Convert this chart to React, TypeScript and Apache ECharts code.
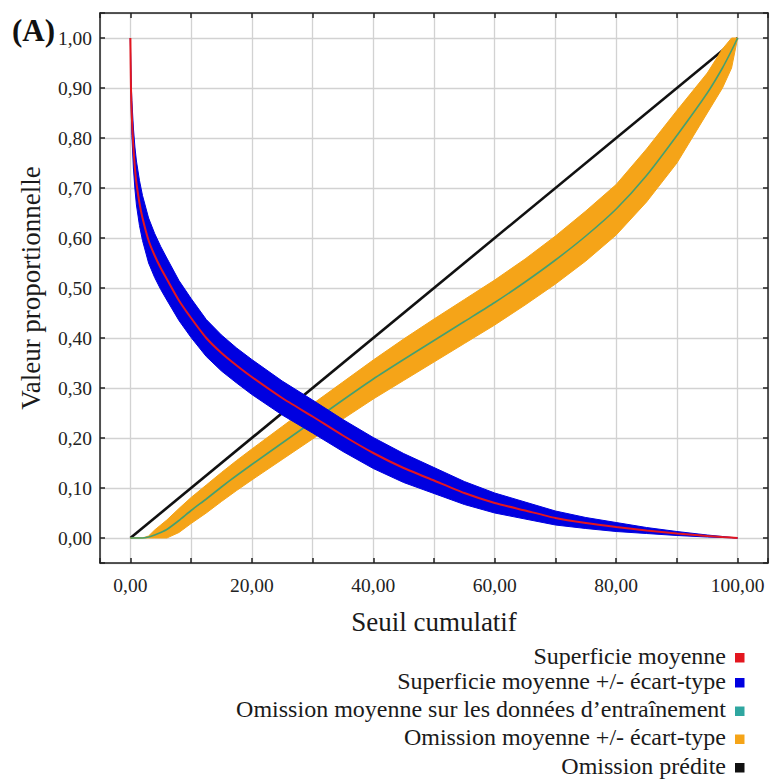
import React, { useEffect, useRef } from "react";
import * as echarts from "echarts";

// Shared x grid (Seuil cumulatif) for all curves and bands
const X_VALUES = [0, 0.1, 0.25, 0.5, 0.75, 1, 1.5, 2, 3, 4, 5, 6, 8, 10, 12.5, 15, 17.5, 20, 25, 30, 35, 40, 45, 50, 55, 60, 65, 70, 75, 80, 85, 90, 95, 97.5, 99, 100];

// Superficie moyenne (red)
const AREA_MEAN = [1.0, 0.9, 0.84, 0.78, 0.74, 0.71, 0.67, 0.64, 0.595, 0.565, 0.54, 0.518, 0.475, 0.44, 0.4, 0.37, 0.345, 0.322, 0.28, 0.243, 0.205, 0.17, 0.14, 0.115, 0.09, 0.07, 0.055, 0.04, 0.03, 0.022, 0.015, 0.009, 0.004, 0.002, 0.001, 0.0];
// Superficie moyenne +/- écart-type (blue band)
const AREA_UPPER = [1.0, 0.92, 0.875, 0.82, 0.782, 0.754, 0.715, 0.685, 0.64, 0.609, 0.583, 0.56, 0.515, 0.479, 0.437, 0.406, 0.38, 0.357, 0.314, 0.276, 0.237, 0.201, 0.169, 0.141, 0.113, 0.09, 0.072, 0.054, 0.041, 0.031, 0.021, 0.013, 0.006, 0.003, 0.001, 0.0];
const AREA_LOWER = [1.0, 0.88, 0.805, 0.74, 0.698, 0.666, 0.625, 0.595, 0.55, 0.521, 0.497, 0.476, 0.435, 0.401, 0.363, 0.334, 0.31, 0.287, 0.246, 0.21, 0.173, 0.139, 0.111, 0.089, 0.067, 0.05, 0.038, 0.026, 0.019, 0.013, 0.009, 0.005, 0.002, 0.001, 0.0005, 0.0];

// Omission moyenne sur les données d'entraînement (teal)
const OMISSION_MEAN = [0, 0, 0, 0, 0, 0, 0, 0, 0.002, 0.006, 0.011, 0.017, 0.035, 0.055, 0.078, 0.102, 0.125, 0.147, 0.19, 0.233, 0.276, 0.318, 0.357, 0.395, 0.433, 0.471, 0.512, 0.556, 0.604, 0.658, 0.725, 0.805, 0.89, 0.94, 0.975, 1.0];
// Omission moyenne +/- écart-type (orange band)
const OMISSION_UPPER = [0, 0, 0, 0, 0, 0, 0, 0, 0.004, 0.016, 0.026, 0.036, 0.059, 0.081, 0.106, 0.131, 0.155, 0.178, 0.223, 0.268, 0.312, 0.356, 0.398, 0.438, 0.477, 0.516, 0.558, 0.604, 0.654, 0.707, 0.778, 0.855, 0.93, 0.978, 1.0, 1.0];
const OMISSION_LOWER = [0, 0, 0, 0, 0, 0, 0, 0, 0, 0, 0, 0, 0.011, 0.029, 0.05, 0.073, 0.095, 0.116, 0.157, 0.198, 0.238, 0.278, 0.315, 0.352, 0.389, 0.426, 0.466, 0.508, 0.554, 0.606, 0.672, 0.75, 0.85, 0.9, 0.94, 1.0];

// Omission prédite (black)
const PREDICTED_X = [0, 100];
const PREDICTED_Y = [0, 1];

const LEGEND_LABELS = [
  "Superficie moyenne",
  "Superficie moyenne +/- écart-type",
  "Omission moyenne sur les données d\u2019entraînement",
  "Omission moyenne +/- écart-type",
  "Omission prédite",
];
const LEGEND_COLORS = ["#e3161f", "#0000e0", "#2fa6a0", "#f5a418", "#111111"];
const MEAN_OMISSION_LINE = "#44a070";

const X_TITLE = "Seuil cumulatif";
const Y_TITLE = "Valeur proportionnelle";
const PANEL_LABEL = "(A)";

const SERIF = "Liberation Serif";

const fmt = (v: number) => v.toFixed(2).replace(".", ",");
const isMult = (v: number, step: number) => Math.abs(v / step - Math.round(v / step)) < 1e-6;
const tickRich = { t: { fontFamily: SERIF, fontSize: 19.5, color: "#222" } };

function band(name: string, upper: number[], lower: number[], color: string, z: number) {
  return {
    type: "custom",
    name,
    z,
    silent: true,
    clip: true,
    data: [[0, 0]],
    renderItem: (_params: any, api: any) => {
      const pts: number[][] = [];
      for (let i = 0; i < X_VALUES.length; i++) pts.push(api.coord([X_VALUES[i], upper[i]]));
      for (let i = X_VALUES.length - 1; i >= 0; i--) pts.push(api.coord([X_VALUES[i], lower[i]]));
      return {
        type: "polygon",
        shape: { points: pts },
        style: { fill: color, stroke: color, lineWidth: 1 },
      };
    },
  };
}

export default function App() {
  const ref = useRef<HTMLDivElement>(null);
  useEffect(() => {
    if (!ref.current) return;
    const chart = echarts.init(ref.current, null, { renderer: "svg" });
    const frame = { color: "#222", width: 1.5 };
    const baseX = { type: "value", min: -5, max: 105, splitNumber: 11 };
    const baseY = { type: "value", min: -0.05, max: 1.05, splitNumber: 11 };
    const legendGraphics: any[] = [];
    const rowY = [657.5, 682.5, 711, 739, 767.5];
    LEGEND_LABELS.forEach((label, i) => {
      legendGraphics.push({
        type: "text",
        style: {
          text: label,
          x: 726,
          y: rowY[i] - 2,
          textAlign: "right",
          textVerticalAlign: "middle",
          fontFamily: SERIF,
          fontSize: 24,
          fill: "#1a1a1a",
        },
      });
      legendGraphics.push({
        type: "rect",
        shape: { x: 735, y: rowY[i] - 4.5, width: 9.5, height: 9.5 },
        style: { fill: LEGEND_COLORS[i] },
      });
    });
    chart.setOption({
      animation: false,
      backgroundColor: "#ffffff",
      textStyle: { fontFamily: SERIF },
      grid: { left: 100, right: 6, top: 13, bottom: 216, containLabel: false },
      xAxis: [
        {
          ...baseX,
          position: "bottom",
          axisLine: { show: true, onZero: false, lineStyle: frame },
          axisTick: { show: true, inside: true, length: 5, lineStyle: frame },
          axisLabel: {
            formatter: (v: number) => (isMult(v, 20) && v >= 0 && v <= 100 ? "{t|" + fmt(v) + "}" : ""),
            rich: tickRich,
            fontFamily: SERIF,
            fontSize: 19.5,
            color: "#222",
            margin: 12,
            showMinLabel: true,
            showMaxLabel: true,
          },
          splitLine: { show: true, lineStyle: { color: "#d2d2d2", width: 1.3 } },
          name: X_TITLE,
          nameLocation: "middle",
          nameGap: 45,
          nameTextStyle: { fontFamily: SERIF, fontSize: 27, color: "#1a1a1a" },
        },
        {
          ...baseX,
          position: "top",
          axisLine: { show: true, onZero: false, lineStyle: frame },
          axisTick: { show: true, inside: true, length: 5, lineStyle: frame },
          axisLabel: { show: false },
          splitLine: { show: false },
        },
      ],
      yAxis: [
        {
          ...baseY,
          position: "left",
          axisLine: { show: true, onZero: false, lineStyle: frame },
          axisTick: { show: true, inside: true, length: 5, lineStyle: frame },
          axisLabel: {
            formatter: (v: number) =>
              isMult(v, 0.1) && v >= -1e-9 && v <= 1 + 1e-9
                ? "{t|" + fmt(Math.abs(v) < 1e-9 ? 0 : v) + "}"
                : "",
            rich: tickRich,
            fontFamily: SERIF,
            fontSize: 19.5,
            color: "#222",
            margin: 8,
          },
          splitLine: { show: true, lineStyle: { color: "#d2d2d2", width: 1.3 } },
          name: Y_TITLE,
          nameLocation: "middle",
          nameGap: 56,
          nameRotate: 90,
          nameTextStyle: { fontFamily: SERIF, fontSize: 27, color: "#1a1a1a" },
        },
        {
          ...baseY,
          position: "right",
          axisLine: { show: true, onZero: false, lineStyle: frame },
          axisTick: { show: true, inside: true, length: 5, lineStyle: frame },
          axisLabel: { show: false },
          splitLine: { show: false },
        },
      ],
      graphic: [
        {
          type: "text",
          style: {
            text: PANEL_LABEL,
            x: 12,
            y: 30,
            textVerticalAlign: "middle",
            fontFamily: SERIF,
            fontWeight: "bold",
            fontSize: 31,
            fill: "#111",
          },
        },
        ...legendGraphics,
      ],
      series: [
        {
          type: "line",
          name: LEGEND_LABELS[4],
          z: 2,
          data: PREDICTED_X.map((x, i) => [x, PREDICTED_Y[i]]),
          showSymbol: false,
          lineStyle: { color: LEGEND_COLORS[4], width: 2.6 },
          silent: true,
        },
        band(LEGEND_LABELS[3], OMISSION_UPPER, OMISSION_LOWER, LEGEND_COLORS[3], 3),
        {
          type: "line",
          name: LEGEND_LABELS[2],
          z: 4,
          data: X_VALUES.map((x, i) => [x, OMISSION_MEAN[i]]),
          showSymbol: false,
          smooth: 0.2,
          lineStyle: { color: MEAN_OMISSION_LINE, width: 1.6 },
          silent: true,
        },
        band(LEGEND_LABELS[1], AREA_UPPER, AREA_LOWER, LEGEND_COLORS[1], 5),
        {
          type: "line",
          name: LEGEND_LABELS[0],
          z: 6,
          data: X_VALUES.map((x, i) => [x, AREA_MEAN[i]]),
          showSymbol: false,
          smooth: 0.2,
          lineStyle: { color: LEGEND_COLORS[0], width: 2 },
          silent: true,
        },
      ],
    });
    return () => chart.dispose();
  }, []);
  return (
    <div
      ref={ref}
      style={{ position: "fixed", left: 0, top: 0, width: 774, height: 779, background: "#fff" }}
    />
  );
}
